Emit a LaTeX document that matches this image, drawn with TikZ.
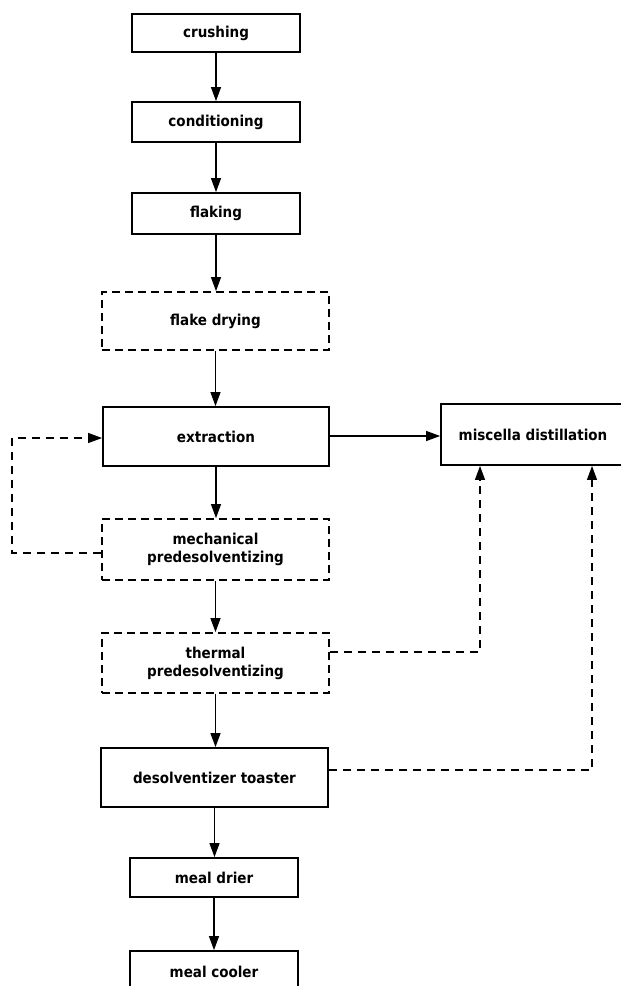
\documentclass[tikz,border=0pt]{standalone}
\usepackage{fontspec}
\newfontfamily\boxfont{DejaVu Sans Condensed}
\usetikzlibrary{arrows.meta}
\tikzset{
  proc/.style={draw, line width=1.8pt, inner sep=0pt, align=center,
    font=\boxfont\bfseries\fontsize{15}{18}\selectfont},
  opt/.style={proc, dashed, dash pattern=on 8pt off 5pt},
  flow/.style={line width=1.2pt, -{Triangle[length=14pt,width=10pt]}},
  back/.style={line width=1.2pt, dash pattern=on 8pt off 6pt, -{Triangle[length=14pt,width=10pt]}}
}
\begin{document}
\begin{tikzpicture}[x=1pt,y=-1pt]
\useasboundingbox (0,0) rectangle (621,986);
\clip (0,0) rectangle (621,986);
\node[proc, minimum width=168pt, minimum height=38pt] (crush) at (216,33) {crushing};
\node[proc, minimum width=168pt, minimum height=40pt] (cond) at (216,122) {conditioning};
\node[proc, minimum width=168pt, minimum height=41pt] (flak) at (216,213.5) {flaking};
\node[opt, minimum width=227pt, minimum height=58pt] (fdry) at (215.5,321) {flake drying};
\node[proc, minimum width=226pt, minimum height=59pt] (extr) at (216,436.5) {extraction};
\node[proc, minimum width=194pt, minimum height=61pt] (misc) at (538,434.5) {\hspace*{-10pt}miscella distillation};
\node[opt, minimum width=227pt, minimum height=61pt] (mech) at (215.5,549.5) {mechanical\\predesolventizing};
\node[opt, minimum width=227pt, minimum height=60pt] (therm) at (215.5,663) {thermal\\predesolventizing};
\node[proc, minimum width=227pt, minimum height=59pt] (deso) at (214.5,777.5) {desolventizer toaster};
\node[proc, minimum width=168pt, minimum height=39pt] (drier) at (214,877.5) {meal drier};
\node[proc, minimum width=168pt, minimum height=42pt] (cooler) at (214,972) {meal cooler};

\draw[flow] (crush.south) -- (crush.south |- cond.north);
\draw[flow] (cond.south) -- (cond.south |- flak.north);
\draw[flow] (flak.south) -- (flak.south |- fdry.north);
\draw[flow] (fdry.south) -- (fdry.south |- extr.north);
\draw[flow] (extr.south) -- (extr.south |- mech.north);
\draw[flow] (mech.south) -- (mech.south |- therm.north);
\draw[flow] (therm.south) -- (therm.south |- deso.north);
\draw[flow] (deso.south) -- (deso.south |- drier.north);
\draw[flow] (drier.south) -- (drier.south |- cooler.north);
\draw[flow] (extr.east |- 0,436) -- (misc.west |- 0,436);

\coordinate (mo) at (mech.west |- 0,553);
\coordinate (lb) at (12,553);
\coordinate (lt) at (12,438);
\coordinate (ei) at (extr.west |- 0,438);
\draw[back] (mo) -- (lb) -- (lt) -- (ei);

\coordinate (to) at (therm.east |- 0,652);
\coordinate (tc) at (480,652);
\coordinate (ti) at (misc.south -| tc);
\draw[back] (to) -- (tc) -- (ti);

\coordinate (do) at (deso.east |- 0,770);
\coordinate (dc) at (592,770);
\coordinate (di) at (misc.south -| dc);
\draw[back] (do) -- (dc) -- (di);
\end{tikzpicture}
\end{document}
